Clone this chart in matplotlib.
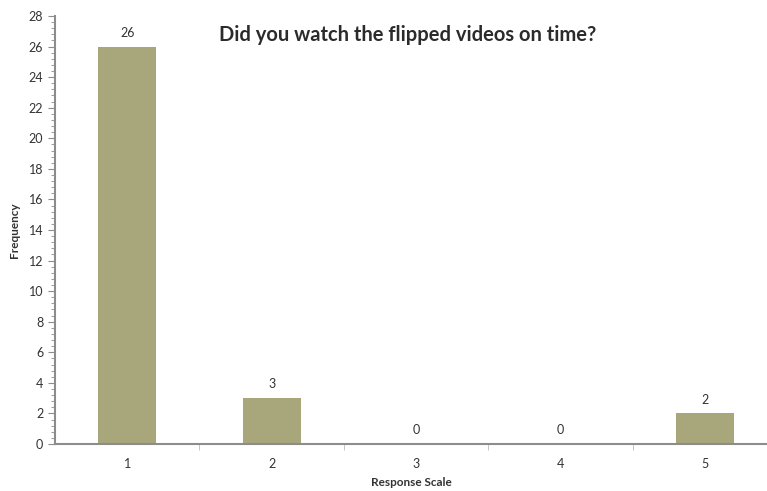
import matplotlib.pyplot as plt
from matplotlib.ticker import MultipleLocator

# survey responses
scale = [1, 2, 3, 4, 5]
counts = [26, 3, 0, 0, 2]

plt.rcParams['font.family'] = ['Lato', 'DejaVu Sans']
axis_col = '#8c8c8c'
text_col = '#333333'

fig = plt.figure(figsize=(7.67, 4.91), dpi=100)
ax = fig.add_axes([55 / 767, 47 / 491, 712 / 767, 428 / 491])

ax.bar(scale, counts, width=0.4, color='#a8a67b', zorder=2)
for x, c in zip(scale, counts):
    ax.text(x, c + 0.5, str(c), ha='center', va='bottom', fontsize=9, color=text_col)

ax.set_xlim(0.5, 5.43)
ax.set_ylim(0, 28)
ax.yaxis.set_major_locator(MultipleLocator(2))
ax.yaxis.set_minor_locator(MultipleLocator(0.4))
ax.set_xticks(scale)
ax.set_xticks([1.5, 2.5, 3.5, 4.5], minor=True)

for s in ['top', 'right']:
    ax.spines[s].set_visible(False)
for s in ['left', 'bottom']:
    ax.spines[s].set_color(axis_col)
    ax.spines[s].set_linewidth(1.5)

ax.tick_params(axis='y', which='major', length=5, color=axis_col, labelsize=9, labelcolor=text_col)
ax.tick_params(axis='y', which='minor', length=3, color=axis_col)
ax.tick_params(axis='x', which='major', length=0, labelsize=9, labelcolor=text_col, pad=10)
ax.tick_params(axis='x', which='minor', length=4, color='#bbbbbb')

ax.set_ylabel('Frequency', fontsize=8.5, fontweight='bold', color=text_col, labelpad=6)
ax.set_xlabel('Response Scale', fontsize=8.5, fontweight='bold', color=text_col, labelpad=5)

fig.text(408 / 767, 1 - 35 / 491, 'Did you watch the flipped videos on time?',
         ha='center', va='center', fontsize=14.5, fontweight='bold', color='#2b2b2b')

fig.savefig('out.png', dpi=100)
